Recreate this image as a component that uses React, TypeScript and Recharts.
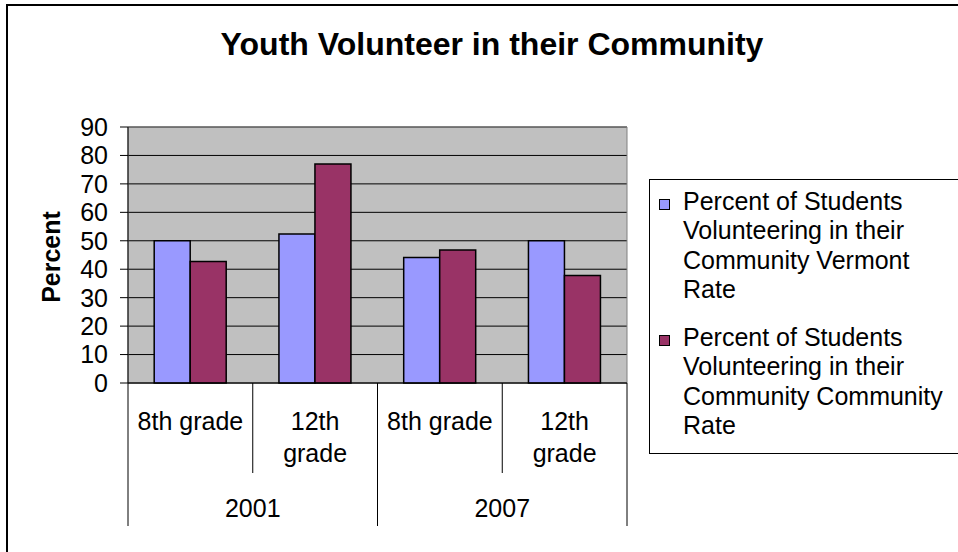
import React from 'react';
import { BarChart, Bar, XAxis, YAxis, CartesianGrid, Legend, ReferenceArea } from 'recharts';

// ---- data ----
const grades = ['8th grade', '12th grade', '8th grade', '12th grade'];
const years = ['2001', '2001', '2007', '2007'];
const vermontRate = [50, 52.4, 44.1, 50];
const communityRate = [42.7, 77, 46.8, 37.8];
const yTicks = [0, 10, 20, 30, 40, 50, 60, 70, 80, 90];
const seriesNames = [
  'Percent of Students Volunteering in their Community Vermont Rate',
  'Percent of Students Volunteering in their Community Community Rate',
];
const chartTitle = 'Youth Volunteer in their Community';
const yAxisTitle = 'Percent';

const data = grades.map((g, i) => ({
  key: `${years[i]}-${i}`,
  grade: g,
  year: years[i],
  vermont: vermontRate[i],
  community: communityRate[i],
}));

const FONT = '"Liberation Sans", Arial, Helvetica, sans-serif';
const BLUE = '#9999FF';
const PLUM = '#993366';

let measureCtx: CanvasRenderingContext2D | null = null;
function textWidth(s: string, size: number): number {
  if (!measureCtx && typeof document !== 'undefined') {
    measureCtx = document.createElement('canvas').getContext('2d');
  }
  if (!measureCtx) return s.length * size * 0.55;
  measureCtx.font = `${size}px ${FONT}`;
  return measureCtx.measureText(s).width;
}

function wrapLabel(label: string, maxWidth: number, size: number): string[] {
  const words = label.split(' ');
  const lines: string[] = [];
  let cur = '';
  for (const w of words) {
    const next = cur ? `${cur} ${w}` : w;
    if (cur && textWidth(next, size) > maxWidth) {
      lines.push(cur);
      cur = w;
    } else {
      cur = next;
    }
  }
  if (cur) lines.push(cur);
  return lines;
}

function CategoryTick(props: any) {
  const { x, y, payload } = props;
  const i: number = typeof props.index === 'number' ? props.index : payload.index;
  const half: number = payload && typeof payload.offset === 'number' && payload.offset > 0 ? payload.offset : 62.5;
  const left = x - half;
  const startsGroup = i === 0 || years[i] !== years[i - 1];
  let groupCount = 0;
  if (startsGroup) {
    let j = i;
    while (j < years.length && years[j] === years[i]) {
      groupCount++;
      j++;
    }
  }
  const isLast = i === grades.length - 1;
  const lines = wrapLabel(grades[i], 2 * half - 12, 25);
  return (
    <g>
      <line x1={left} x2={left} y1={y} y2={y + (startsGroup ? 143 : 90)} stroke="#000" strokeWidth={1} />
      {isLast && <line x1={x + half} x2={x + half} y1={y} y2={y + 143} stroke="#000" strokeWidth={1} />}
      <text x={x} y={y + 47} textAnchor="middle" fontSize={25} fontFamily={FONT} fill="#000">
        {lines.map((ln, k) => (
          <tspan key={k} x={x} dy={k === 0 ? 0 : 32}>
            {ln}
          </tspan>
        ))}
      </text>
      {startsGroup && (
        <text x={left + groupCount * half} y={y + 134} textAnchor="middle" fontSize={25} fontFamily={FONT} fill="#000">
          {years[i]}
        </text>
      )}
    </g>
  );
}

function renderYLabel(p: any) {
  const vb = p.viewBox || { x: 28, y: 127, width: 100, height: 256 };
  const cx = vb.x + 23;
  const cy = vb.y + vb.height / 2 + 2;
  return (
    <text
      x={cx}
      y={cy}
      transform={`rotate(-90 ${cx} ${cy})`}
      textAnchor="middle"
      dominantBaseline="central"
      fontSize={25}
      fontWeight="bold"
      fontFamily={FONT}
      fill="#000"
    >
      {yAxisTitle}
    </text>
  );
}

function LegendContent(props: any) {
  const payload = [...(props.payload || [])].sort(
    (a: any, b: any) => seriesNames.indexOf(a.value) - seriesNames.indexOf(b.value)
  );
  return (
    <div
      style={{
        border: '1px solid #000',
        background: '#fff',
        padding: '7px 0 13px 9px',
        boxSizing: 'border-box',
        width: 330,
        fontFamily: FONT,
        fontSize: 25,
        lineHeight: '29.3px',
        color: '#000',
        textAlign: 'left',
      }}
    >
      {payload.map((entry: any, i: number) => (
        <div key={i} style={{ display: 'flex', alignItems: 'flex-start', marginTop: i ? 19 : 0 }}>
          <span
            style={{
              display: 'block',
              width: 11,
              height: 11,
              background: entry.color,
              border: '1px solid #000',
              boxSizing: 'border-box',
              marginTop: 12,
              marginRight: 13,
              flex: 'none',
            }}
          />
          <div style={{ width: 272 }}>{entry.value}</div>
        </div>
      ))}
    </div>
  );
}

export default function App() {
  return (
    <div style={{ position: 'absolute', left: 0, top: 0, width: 958, height: 552, overflow: 'hidden', background: '#fff' }}>
      <div
        style={{
          position: 'absolute',
          left: 6,
          top: 4,
          width: 1000,
          height: 600,
          borderLeft: '2px solid #000',
          borderTop: '2px solid #000',
        }}
      />
      <div
        style={{
          position: 'absolute',
          left: 92,
          top: 26,
          width: 800,
          textAlign: 'center',
          fontFamily: FONT,
          fontWeight: 'bold',
          fontSize: 32,
          lineHeight: '36px',
          color: '#000',
        }}
      >
        {chartTitle}
      </div>
      <div style={{ position: 'absolute', left: 0, top: 0 }}>
        <BarChart
          width={958}
          height={552}
          data={data}
          margin={{ top: 127, right: 331, bottom: 0, left: 28 }}
          barGap={0}
          barCategoryGap="21%"
        >
          <CartesianGrid vertical={false} stroke="#000" fill="#C0C0C0" strokeOpacity={1} />
          <ReferenceArea y1={0} y2={90} fill="none" stroke="#808080" strokeWidth={1} ifOverflow="visible" />
          <XAxis
            dataKey="key"
            height={169}
            axisLine={{ stroke: '#000' }}
            tickLine={false}
            tickSize={0}
            tickMargin={0}
            interval={0}
            tick={<CategoryTick />}
          />
          <YAxis
            width={100}
            domain={[0, 90]}
            ticks={yTicks}
            interval={0}
            allowDecimals={false}
            axisLine={{ stroke: '#000' }}
            tickLine={{ stroke: '#000' }}
            tickSize={8}
            tickMargin={12}
            tick={{ fontSize: 25, fill: '#000', fontFamily: FONT }}
            label={renderYLabel}
          />
          <Legend
            layout="horizontal"
            align="center"
            verticalAlign="middle"
            content={<LegendContent />}
            wrapperStyle={{ position: 'absolute', left: 649, top: 179, width: 330, height: 'auto', margin: 0 }}
          />
          <Bar dataKey="vermont" name={seriesNames[0]} fill={BLUE} stroke="#000" strokeWidth={1.5} isAnimationActive={false} />
          <Bar dataKey="community" name={seriesNames[1]} fill={PLUM} stroke="#000" strokeWidth={1.5} isAnimationActive={false} />
        </BarChart>
      </div>
    </div>
  );
}
